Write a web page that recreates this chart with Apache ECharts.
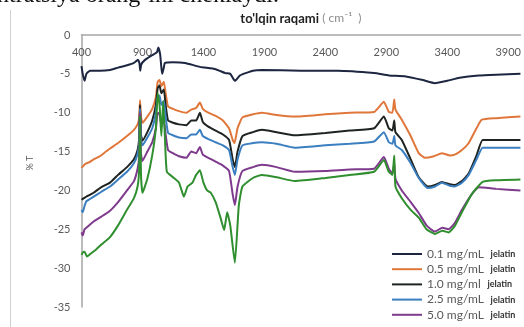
<!DOCTYPE html>
<html>
<head>
<meta charset="utf-8">
<script src="https://cdn.jsdelivr.net/npm/echarts@6/dist/echarts.min.js"></script>
<style>
  html, body { margin: 0; padding: 0; background: #fff; }
  #chart { width: 524px; height: 327px; }
</style>
</head>
<body>
<div id="chart"></div>
<script>
// FTIR transmittance spectra of gelatin films: [wavenumber cm^-1, %T]
const conc01 = [[400,-4.0],[410,-5.0],[425,-5.9],[440,-5.0],[470,-4.6],[550,-4.6],[634,-4.5],[700,-4.2],[773,-3.9],[830,-3.6],[863,-3.2],[875,-3.6],[882,-4.6],[890,-3.8],[921,-3.2],[980,-2.6],[1019,-2.2],[1030,-1.6],[1045,-2.5],[1055,-4.2],[1062,-5.0],[1075,-4.2],[1084,-3.6],[1150,-3.5],[1250,-3.6],[1371,-4.1],[1500,-4.4],[1580,-4.9],[1620,-5.0],[1658,-5.9],[1700,-5.2],[1806,-4.6],[1880,-4.5],[2200,-4.6],[2500,-4.6],[2800,-4.9],[2921,-5.2],[3050,-5.3],[3200,-5.8],[3298,-6.2],[3400,-5.9],[3500,-5.5],[3658,-5.2],[3800,-5.1],[4000,-5.0]];
const conc05 = [[400,-17.1],[430,-16.6],[460,-16.4],[500,-16.0],[550,-15.6],[600,-15.0],[634,-14.6],[700,-13.9],[773,-13.0],[830,-12.2],[860,-11.5],[872,-10.8],[880,-8.4],[888,-10.5],[900,-11.3],[940,-10.5],[980,-9.5],[1010,-8.0],[1025,-6.0],[1040,-5.8],[1055,-6.6],[1075,-6.0],[1090,-7.5],[1110,-9.2],[1150,-9.5],[1200,-9.8],[1260,-10.0],[1300,-9.6],[1340,-9.4],[1371,-8.7],[1395,-9.5],[1440,-10.0],[1500,-10.4],[1560,-11.0],[1610,-12.0],[1640,-13.5],[1655,-13.9],[1680,-12.0],[1720,-10.6],[1806,-10.2],[1880,-10.0],[2000,-10.3],[2150,-10.5],[2400,-10.2],[2600,-10.0],[2800,-9.9],[2880,-8.6],[2920,-9.9],[2950,-10.0],[2965,-8.3],[2975,-9.6],[3027,-10.9],[3100,-13.0],[3166,-15.2],[3216,-15.8],[3290,-15.6],[3355,-15.2],[3420,-15.5],[3461,-15.4],[3520,-14.8],[3576,-13.9],[3640,-12.0],[3683,-10.9],[3800,-10.7],[4000,-10.5]];
const conc10 = [[400,-21.2],[420,-21.0],[440,-20.8],[500,-20.3],[560,-19.6],[634,-19.0],[700,-18.0],[773,-17.0],[830,-16.0],[860,-14.8],[872,-13.5],[880,-9.0],[888,-12.8],[900,-13.6],[940,-12.5],[980,-11.0],[1010,-9.0],[1025,-6.8],[1040,-6.5],[1055,-7.5],[1075,-7.0],[1090,-9.0],[1110,-11.0],[1150,-11.3],[1200,-11.5],[1260,-11.6],[1300,-11.0],[1340,-11.0],[1371,-10.0],[1395,-11.2],[1440,-11.8],[1500,-12.3],[1560,-12.8],[1610,-13.5],[1640,-16.0],[1658,-17.0],[1680,-15.0],[1720,-13.0],[1806,-12.5],[1880,-12.2],[2000,-12.5],[2150,-12.9],[2400,-12.6],[2600,-12.3],[2800,-12.0],[2880,-10.5],[2920,-12.0],[2950,-12.3],[2965,-11.0],[2975,-12.5],[3027,-13.5],[3100,-16.0],[3166,-18.3],[3240,-19.5],[3300,-19.3],[3355,-18.9],[3420,-19.2],[3461,-19.3],[3520,-18.8],[3576,-17.8],[3640,-15.5],[3690,-13.5],[3800,-13.5],[4000,-13.5]];
const conc25 = [[400,-22.5],[410,-22.8],[425,-22.0],[440,-21.4],[500,-20.8],[560,-20.2],[634,-19.5],[700,-18.6],[773,-17.6],[830,-16.5],[860,-15.3],[872,-14.0],[880,-9.5],[888,-13.5],[900,-14.2],[940,-13.2],[980,-12.0],[1010,-10.0],[1025,-8.0],[1040,-7.8],[1055,-9.0],[1075,-8.5],[1090,-10.5],[1110,-12.6],[1150,-12.9],[1200,-13.2],[1260,-13.3],[1300,-12.8],[1340,-12.8],[1371,-12.2],[1395,-13.0],[1440,-13.4],[1500,-13.8],[1560,-14.2],[1610,-14.8],[1640,-17.0],[1658,-18.0],[1680,-16.0],[1720,-14.2],[1806,-13.9],[1880,-13.8],[2000,-14.0],[2150,-14.5],[2400,-14.2],[2600,-14.0],[2800,-13.7],[2880,-12.5],[2920,-13.8],[2950,-14.0],[2965,-13.0],[2975,-14.2],[3027,-14.8],[3100,-16.5],[3166,-18.4],[3240,-19.7],[3300,-19.5],[3355,-19.0],[3420,-19.4],[3461,-19.5],[3520,-19.0],[3576,-18.0],[3640,-16.0],[3690,-14.5],[3800,-14.5],[4000,-14.5]];
const conc50 = [[400,-25.4],[410,-25.8],[425,-25.0],[440,-24.8],[500,-24.0],[560,-23.4],[634,-22.6],[700,-21.5],[773,-20.0],[830,-18.8],[860,-17.2],[872,-15.8],[880,-10.0],[888,-15.3],[900,-16.2],[940,-15.0],[980,-13.8],[1010,-12.0],[1025,-10.0],[1040,-10.2],[1055,-11.5],[1075,-11.0],[1090,-12.8],[1110,-14.8],[1150,-15.2],[1200,-15.6],[1260,-15.8],[1300,-15.0],[1340,-15.2],[1371,-14.4],[1395,-15.4],[1440,-15.8],[1500,-16.3],[1560,-16.8],[1610,-17.5],[1640,-20.5],[1658,-21.9],[1680,-19.5],[1720,-17.5],[1806,-17.0],[1880,-16.7],[2000,-17.0],[2150,-17.6],[2400,-17.5],[2600,-17.3],[2800,-17.2],[2880,-15.7],[2920,-17.2],[2950,-17.8],[2965,-16.5],[2975,-18.5],[3027,-20.0],[3100,-21.5],[3166,-22.9],[3230,-24.5],[3298,-25.3],[3360,-24.8],[3410,-25.0],[3461,-24.2],[3520,-22.5],[3600,-20.5],[3658,-19.6],[3800,-19.8],[4000,-20.0]];
const conc6 = [[400,-28.3],[410,-28.0],[425,-27.9],[445,-28.5],[470,-28.2],[520,-27.6],[560,-27.0],[634,-26.0],[700,-24.5],[773,-22.5],[830,-21.0],[860,-19.5],[872,-17.5],[880,-10.5],[888,-18.0],[900,-20.3],[940,-18.5],[980,-15.5],[1010,-12.0],[1025,-7.5],[1040,-9.0],[1055,-13.0],[1070,-8.5],[1085,-13.5],[1100,-17.6],[1150,-18.3],[1200,-19.0],[1240,-20.8],[1270,-19.5],[1310,-19.0],[1340,-18.0],[1371,-17.4],[1400,-19.0],[1430,-20.0],[1460,-20.3],[1500,-21.5],[1540,-23.5],[1570,-25.1],[1595,-22.8],[1620,-24.5],[1658,-29.3],[1690,-22.0],[1720,-19.5],[1806,-18.4],[1880,-18.0],[2000,-18.3],[2150,-18.8],[2400,-18.4],[2600,-18.0],[2800,-17.6],[2880,-16.1],[2920,-17.6],[2950,-18.0],[2965,-15.5],[2975,-19.5],[3027,-21.0],[3100,-22.5],[3166,-23.5],[3230,-25.0],[3298,-25.6],[3360,-25.2],[3410,-25.4],[3461,-24.6],[3520,-22.8],[3600,-20.5],[3690,-18.9],[3800,-18.7],[4000,-18.6]];

const legendLabels = ['0.1 mg/mL', '0.5 mg/mL', '1.0 mg/ml', '2.5 mg/mL', '5.0 mg/mL'];
const seriesNames = legendLabels.map(l => l + ' jelatin').concat(['6-namuna']);
const seriesData = [conc01, conc05, conc10, conc25, conc50, conc6];
const seriesColors = ['#1c2640', '#e0773a', '#1e2420', '#3b7fc0', '#7e3a8c', '#2f8f2f'];

const chart = echarts.init(document.getElementById('chart'), null, { renderer: 'canvas' });
const font = 'Lato, "Open Sans", sans-serif';

chart.setOption({
  animation: false,
  backgroundColor: '#fff',
  grid: { left: 81.5, right: 3.5, top: 35, bottom: 20, containLabel: false },
  xAxis: {
    type: 'value', position: 'top', min: 400, max: 4000, interval: 500,
    axisLine: { show: true, onZero: false, lineStyle: { color: '#a6a6a6', width: 1.5 } },
    axisTick: { show: false },
    splitLine: { show: false },
    axisLabel: { inside: true, margin: 12, color: '#595959', fontSize: 11, fontFamily: font,
      showMaxLabel: false, formatter: v => String(v) },
    name: "{b|to'lqin raqami} {g|( cm⁻¹  )}",
    nameLocation: 'middle', nameGap: 10,
    nameTextStyle: {
      rich: {
        b: { fontSize: 13, fontWeight: 'bold', color: '#222', fontFamily: font },
        g: { fontSize: 12, color: '#8c8c8c', fontFamily: font }
      }
    }
  },
  yAxis: {
    type: 'value', min: -35, max: 0, interval: 5,
    axisLine: { show: true, onZero: false, lineStyle: { color: '#a6a6a6', width: 1.5 } },
    axisTick: { show: false },
    splitLine: { show: false },
    axisLabel: { margin: 11, color: '#595959', fontSize: 11, fontFamily: font },
    name: '% T', nameLocation: 'middle', nameGap: 47, nameRotate: 90,
    nameTextStyle: { color: '#595959', fontSize: 9, fontFamily: font, padding: [0, 0, 0, 16] }
  },
  legend: {
    data: seriesNames.slice(0, 5),
    orient: 'vertical', left: 392, top: 247, padding: 0,
    itemWidth: 30, itemHeight: 2, itemGap: 1.2, icon: 'rect',
    formatter: name => '{v|' + name.replace(' jelatin', '') + '}  {j|jelatin}',
    textStyle: {
      lineHeight: 14,
      rich: {
        v: { fontSize: 12, color: '#595959', fontFamily: font, lineHeight: 14 },
        j: { fontSize: 9, fontWeight: 'bold', color: '#333', fontFamily: font, lineHeight: 14 }
      }
    }
  },
  graphic: [
    // page text running above the figure
    { type: 'text', left: -3, top: -16, silent: true,
      style: { text: 'ntratsiya orangʻini cheklaydi.', font: '24px "Liberation Serif", serif', fill: '#111' } },
    // frame edge of the figure box
    { type: 'line', shape: { x1: 10.5, y1: 10, x2: 10.5, y2: 327 }, style: { stroke: '#d0d0d0', lineWidth: 1 } }
  ],
  series: seriesData.map((d, i) => ({
    name: seriesNames[i], type: 'line', data: d, showSymbol: false, symbol: 'none',
    smooth: 0.15, color: seriesColors[i],
    lineStyle: { width: 2, color: seriesColors[i] }
  }))
});
</script>
</body>
</html>
